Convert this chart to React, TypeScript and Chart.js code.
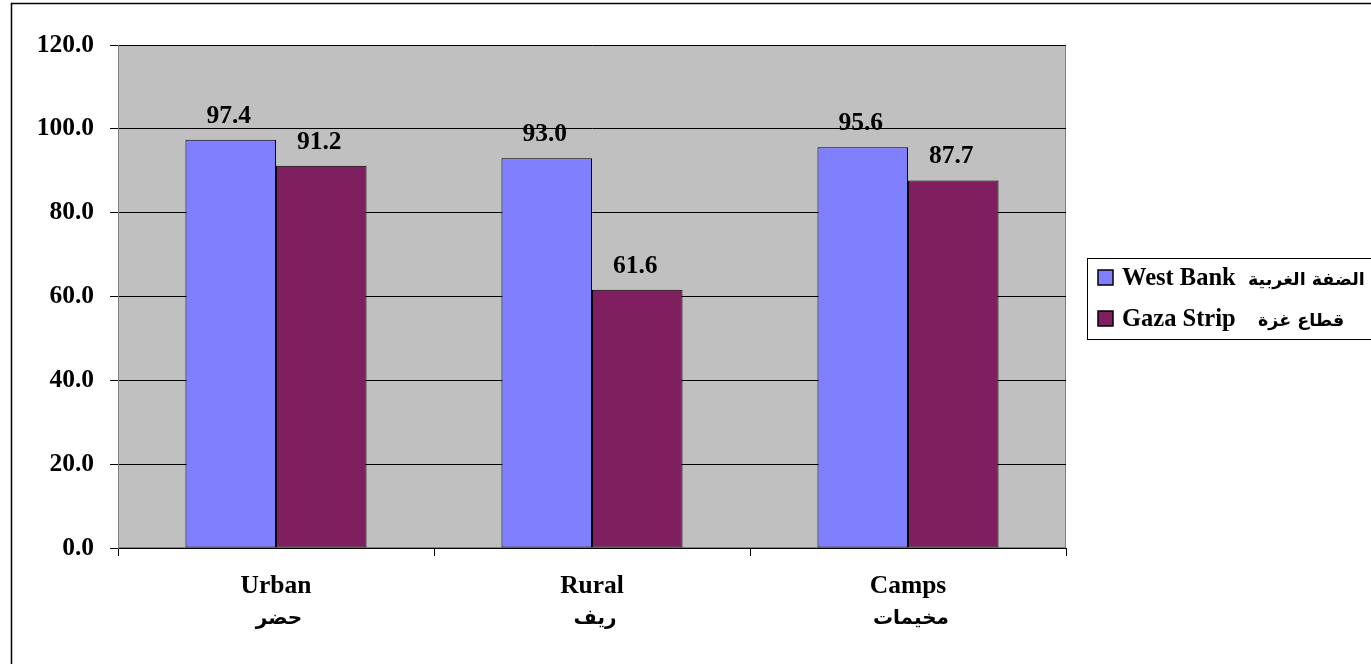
import React, { useEffect, useRef } from 'react';
import { Chart, registerables } from 'chart.js';

Chart.register(...registerables);

const categoriesEnglish = ['Urban', 'Rural', 'Camps'];
const categoriesArabic = ['حضر', 'ريف', 'مخيمات'];
const westBankValues = [97.4, 93.0, 95.6];
const gazaValues = [91.2, 61.6, 87.7];
const seriesEnglish = ['West Bank', 'Gaza Strip'];
const seriesArabic = ['الضفة الغربية', 'قطاع غزة'];
const seriesColors = ['#8080FF', '#7F1F5F'];
const yMin = 0;
const yMax = 120;
const yStep = 20;

const SERIF = '"Liberation Serif", "Times New Roman", "DejaVu Sans", serif';
const ARABIC = '"DejaVu Sans", sans-serif';

const backgroundPlugin = {
  id: 'bgFrame',
  beforeDraw(chart: any) {
    const { ctx, chartArea: a, width, height } = chart;
    ctx.save();
    ctx.fillStyle = '#FFFFFF';
    ctx.fillRect(0, 0, width, height);
    ctx.strokeStyle = '#000';
    ctx.lineWidth = 1.5;
    ctx.beginPath();
    ctx.moveTo(11.5, height);
    ctx.lineTo(11.5, 3.5);
    ctx.lineTo(width, 3.5);
    ctx.stroke();
    ctx.fillStyle = '#C0C0C0';
    ctx.fillRect(a.left, a.top, a.right - a.left, a.bottom - a.top);
    ctx.strokeStyle = '#808080';
    ctx.lineWidth = 1;
    ctx.strokeRect(a.left + 0.5, a.top + 0.5, a.right - a.left - 1, a.bottom - a.top - 1);
    ctx.restore();
  },
};

const valueLabelPlugin = {
  id: 'valueLabels',
  afterDatasetsDraw(chart: any) {
    const { ctx } = chart;
    ctx.save();
    ctx.font = `bold 25.5px ${SERIF}`;
    ctx.fillStyle = '#000';
    ctx.textAlign = 'center';
    ctx.textBaseline = 'alphabetic';
    chart.data.datasets.forEach((ds: any, di: number) => {
      const meta = chart.getDatasetMeta(di);
      meta.data.forEach((bar: any, i: number) => {
        ctx.fillText(Number(ds.data[i]).toFixed(1), bar.x - 2, bar.y - 17);
      });
    });
    ctx.restore();
  },
};

const arabicCategoryPlugin = {
  id: 'arabicCategories',
  afterDraw(chart: any) {
    const { ctx } = chart;
    const xScale = chart.scales.x;
    ctx.save();
    ctx.font = `bold 20px ${ARABIC}`;
    ctx.fillStyle = '#000';
    ctx.textAlign = 'center';
    ctx.textBaseline = 'alphabetic';
    categoriesArabic.forEach((t, i) => {
      ctx.fillText(t, xScale.getPixelForTick(i) + 3, 624);
    });
    ctx.restore();
  },
};

const legendPlugin = {
  id: 'customLegend',
  afterDraw(chart: any) {
    const { ctx } = chart;
    const boxLeft = 1087;
    const boxTop = 258;
    const boxBottom = 339;
    ctx.save();
    ctx.strokeStyle = '#000';
    ctx.lineWidth = 1;
    ctx.strokeRect(boxLeft + 0.5, boxTop + 0.5, 400, boxBottom - boxTop);
    const baselines = [285, 326];
    const arabicX = [1248, 1258];
    seriesEnglish.forEach((name, i) => {
      const by = baselines[i];
      ctx.fillStyle = seriesColors[i];
      ctx.fillRect(1098, by - 15, 15, 15);
      ctx.strokeStyle = '#000';
      ctx.lineWidth = 1.5;
      ctx.strokeRect(1098, by - 15, 15, 15);
      ctx.fillStyle = '#000';
      ctx.textAlign = 'left';
      ctx.textBaseline = 'alphabetic';
      ctx.font = `bold 24.5px ${SERIF}`;
      ctx.fillText(name, 1122, by);
      ctx.font = `bold 17.5px ${ARABIC}`;
      ctx.fillText(seriesArabic[i], arabicX[i], by);
    });
    ctx.restore();
  },
};

export default function App() {
  const ref = useRef<HTMLCanvasElement>(null);

  useEffect(() => {
    if (!ref.current) return;
    const chart = new Chart(ref.current, {
      type: 'bar',
      data: {
        labels: categoriesEnglish,
        datasets: [
          {
            label: seriesEnglish[0],
            data: westBankValues,
            backgroundColor: seriesColors[0],
            borderColor: '#000',
            borderWidth: 1,
            borderSkipped: false,
            categoryPercentage: 0.573,
            barPercentage: 1,
          },
          {
            label: seriesEnglish[1],
            data: gazaValues,
            backgroundColor: seriesColors[1],
            borderColor: '#000',
            borderWidth: 1,
            borderSkipped: false,
            categoryPercentage: 0.573,
            barPercentage: 1,
          },
        ],
      },
      options: {
        responsive: false,
        devicePixelRatio: 1,
        animation: false,
        layout: { padding: { left: 0, top: 45, right: 305, bottom: 0 } },
        plugins: {
          legend: { display: false },
          tooltip: { enabled: false },
          title: { display: false },
        },
        scales: {
          x: {
            offset: true,
            grid: {
              offset: true,
              drawOnChartArea: false,
              drawTicks: true,
              tickLength: 8,
              color: '#000',
            },
            border: { color: '#000', width: 1 },
            ticks: {
              color: '#000',
              padding: 15,
              maxRotation: 0,
              autoSkip: false,
              font: { family: SERIF, size: 25.5, weight: 'bold', lineHeight: 1.2 },
            },
            afterFit(scale: any) {
              scale.height = 116;
            },
          },
          y: {
            min: yMin,
            max: yMax,
            grid: {
              color: '#000',
              tickLength: 8,
              drawTicks: true,
            },
            border: { color: '#808080', width: 1 },
            ticks: {
              stepSize: yStep,
              color: '#000',
              padding: 16,
              font: { family: SERIF, size: 25.5, weight: 'bold' },
              callback: (v: any) => Number(v).toFixed(1),
            },
            afterFit(scale: any) {
              scale.width = 118;
            },
          },
        },
      },
      plugins: [backgroundPlugin, valueLabelPlugin, arabicCategoryPlugin, legendPlugin],
    });
    return () => chart.destroy();
  }, []);

  return (
    <div style={{ position: 'absolute', left: 0, top: 0, width: 1371, height: 664, background: '#fff' }}>
      <canvas ref={ref} width={1371} height={664} style={{ display: 'block', width: 1371, height: 664 }} />
    </div>
  );
}
